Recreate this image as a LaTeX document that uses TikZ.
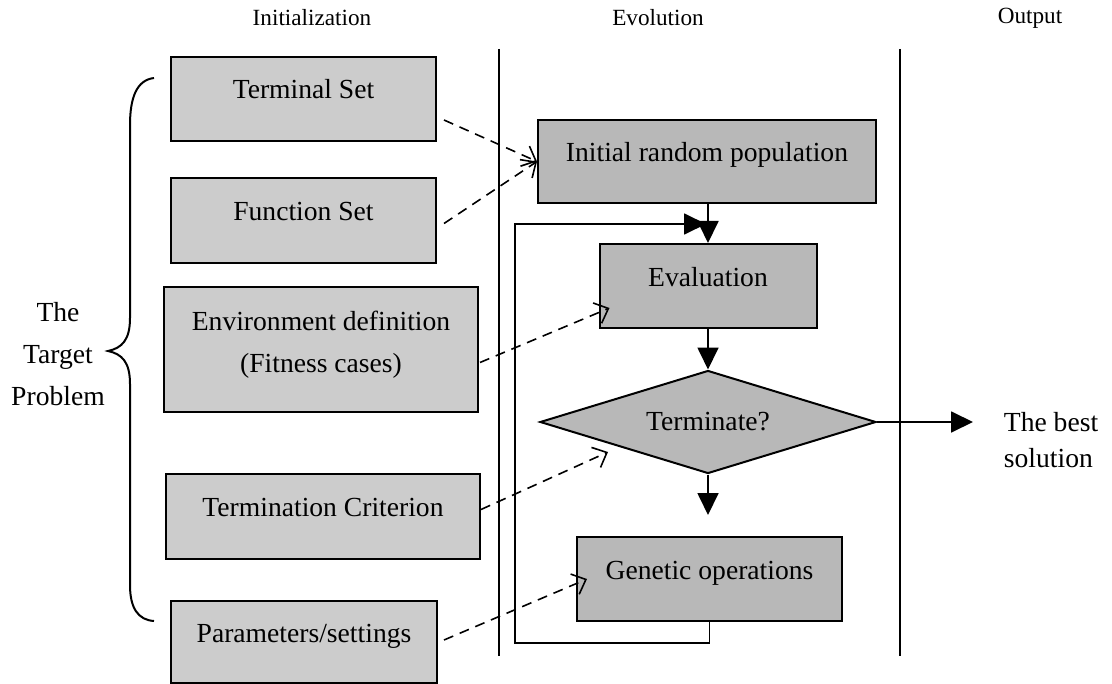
\documentclass[tikz,border=0pt]{standalone}
\usepackage{fontspec}
\setmainfont{Liberation Serif}
\usetikzlibrary{shapes.geometric,arrows.meta,calc}

\begin{document}
\begin{tikzpicture}[
    x=0.5pt, y=-0.5pt,
    line width=0.9pt,
    font=\fontsize{13.8}{21}\selectfont,
    initbox/.style={draw, fill=black!20, line width=1pt, inner sep=0pt,
                    text height=0.6em, text depth=0.6em},
    evobox/.style={initbox, fill=black!28},
    head/.style={font=\fontsize{11.6}{14}\selectfont},
    flow/.style={-{Triangle[length=11pt,width=10.5pt]}},
    feed/.style={line width=0.8pt, dash pattern=on 5pt off 3.5pt,
                 -{Straight Barb[length=6pt,width=11pt]}}
]
  \useasboundingbox (0,0) rectangle (1112,684);

  %--- column headers and separators ---
  \node[head] (hinit) at (312,18)  {Initialization};
  \node[head] (hevo)  at (658,18)  {Evolution};
  \node[head] (hout)  at (1030,18) {Output};
  \draw (499,49) -- (499,656);
  \draw (900,49) -- (900,656);

  %--- initialization column ---
  \node[initbox, minimum width=132.5pt, minimum height=42pt]   (term)   at (303.5,99)   {Terminal Set};
  \node[initbox, minimum width=132.5pt, minimum height=42.5pt] (func)   at (303.5,220.5) {Function Set};
  \node[draw, fill=black!20, line width=1pt, inner sep=0pt,
        minimum width=157pt, minimum height=62.5pt]           (env)    at (321,349.5)
    {\raisebox{3pt}[\height][\depth]{\begin{tabular}{@{}c@{}}Environment definition\\(Fitness cases)\end{tabular}}};
  \node[initbox, minimum width=157pt, minimum height=42.5pt]   (termc)  at (323,516.5)  {Termination Criterion};
  \node[initbox, minimum width=133pt, minimum height=41pt]     (params) at (304,642)    {Parameters/settings};

  % brace and problem label
  \draw[line width=1pt] (154,78) .. controls (137,80) and (130,97) .. (130,125)
    -- (130,318) .. controls (130,340) and (122,348) .. (108,351)
    .. controls (122,354) and (130,362) .. (130,384)
    -- (130,585) .. controls (130,608) and (138,620) .. (154,621);
  \node[align=center] (target) at (58,354) {The\\Target\\Problem};

  %--- evolution column ---
  \node[evobox, minimum width=169pt, minimum height=41.5pt] (irp)  at (707,161.5) {Initial random population};
  \node[evobox, minimum width=108.5pt, minimum height=42pt] (eval) at (708,286) {Evaluation};
  \node[diamond, aspect=3.3, draw, fill=black!28, line width=1pt, inner sep=0pt,
        minimum width=168pt, minimum height=51.5pt]         (decide) at (708,422) {Terminate?};
  \node[evobox, minimum width=132.5pt, minimum height=42pt] (gen)  at (709.5,579) {Genetic operations};

  %--- output ---
  \node[anchor=west, align=left, inner sep=0pt, font=\fontsize{13.8}{18}\selectfont] (best) at (1003,440) {The best\\solution};
  \coordinate (outtip) at (973,422);
  \coordinate (loopin) at (706,224);

  %--- flow ---
  \draw[flow] (irp.south -| eval.north) -- (eval.north);
  \draw[flow] (eval.south) -- (decide.north);
  \draw[flow, shorten >=10.5pt] (decide.south) -- (decide.south |- gen.north);
  \draw[flow] (decide.east) -- (outtip);
  \draw[flow] (gen.south) -- ++(0,21) -| (515,224) -- (loopin);

  %--- inputs ---
  \draw[feed] ($(term.east)+(7,21)$)    -- (irp.west);
  \draw[feed] ($(func.east)+(7,3)$)     -- (irp.west);
  \draw[feed] ($(env.east)+(1,13)$)     -- ($(eval.west)+(11,22)$);
  \draw[feed] ($(termc.east)+(0,-7)$)   -- ($(decide.center)+(-100,30)$);
  \draw[feed] ($(params.east)+(6,-2)$)  -- ($(gen.west)+(11,0)$);
\end{tikzpicture}
\end{document}
